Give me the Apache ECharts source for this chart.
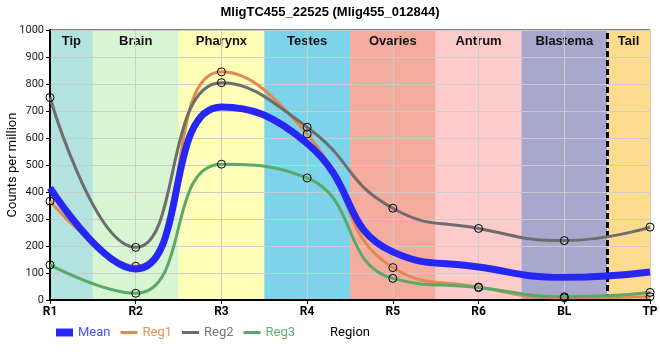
<!DOCTYPE html>
<html>
<head>
<meta charset="utf-8">
<script src="https://cdn.jsdelivr.net/npm/echarts@6/dist/echarts.min.js"></script>
<style>html,body{margin:0;padding:0;background:#fff}#c{width:660px;height:360px}</style>
</head>
<body>
<div id="c"></div>
<script>
var titleText = 'MligTC455_22525 (Mlig455_012844)';
var xLabels = ['R1', 'R2', 'R3', 'R4', 'R5', 'R6', 'BL', 'TP'];
var meanVals = [415, 115, 715, 580, 178, 122, 84, 104];
var reg1Vals = [366, 125, 845, 615, 120, 48, 8, 12];
var reg2Vals = [750, 195, 805, 640, 340, 265, 220, 270];
var reg3Vals = [130, 25, 503, 452, 80, 46, 12, 28];
var yTicks = { min: 0, max: 1000, interval: 100 };
var regionNames = ['Tip', 'Brain', 'Pharynx', 'Testes', 'Ovaries', 'Antrum', 'Blastema', 'Tail'];
var regionStart = [0, 0.5, 1.5, 2.5, 3.5, 4.5, 5.5, 6.5];
var regionEnd = [0.5, 1.5, 2.5, 3.5, 4.5, 5.5, 6.5, 7];
var regionColors = ['#b3e3df', '#d7f5d1', '#fefeb9', '#7dd4ea', '#f4ac9f', '#fecbcb', '#a8a8cf', '#fddb8e'];
var dividerAt = [6.5];
var seriesNames = ['Mean', 'Reg1', 'Reg2', 'Reg3'];
var seriesColors = ['#2626f5', '#e08a4e', '#6d6d6d', '#5aa86a'];
var legendTextColors = ['#4d4dff', '#e8925c', '#777777', '#5fae70'];

function pairs(vals) { return vals.map(function (v, i) { return [i, v]; }); }

var lineIcon = 'path://M0,0H17V3H0Z';
var rectIcon = 'path://M0,0H15V7H0Z';

var areaData = regionNames.map(function (n, i) {
  return [{ name: n, xAxis: regionStart[i], itemStyle: { color: regionColors[i] } }, { xAxis: regionEnd[i] }];
});

var regStyle = function (idx) {
  return {
    name: seriesNames[idx], type: 'line', smooth: 0.5, z: 3,
    data: pairs([meanVals, reg1Vals, reg2Vals, reg3Vals][idx]),
    symbol: 'circle', symbolSize: 8, showSymbol: true,
    lineStyle: { color: seriesColors[idx], width: 3 },
    itemStyle: { color: 'rgba(0,0,0,0)', borderColor: '#000', borderWidth: 1 },
    emphasis: { disabled: true }
  };
};

var option = {
  animation: false,
  backgroundColor: '#fff',
  title: {
    text: titleText, left: 'center', top: 1,
    textStyle: { fontFamily: 'Liberation Sans', fontWeight: 'bold', fontSize: 13, color: '#000' }
  },
  grid: { left: 50, right: 10, top: 30, bottom: 60, outerBoundsMode: 'none', containLabel: false, show: true, borderColor: '#000', borderWidth: 1, backgroundColor: 'transparent' },
  legend: {
    left: 51, top: 321, itemWidth: 17, itemHeight: 8, itemGap: 10,
    textStyle: { fontFamily: 'Roboto', fontSize: 13 },
    data: seriesNames.map(function (n, i) {
      return { name: n, icon: i === 0 ? rectIcon : lineIcon, itemStyle: { color: seriesColors[i], borderWidth: 0 }, textStyle: { color: legendTextColors[i] } };
    })
  },
  xAxis: {
    type: 'value', min: 0, max: xLabels.length - 1, interval: 1, z: 1,
    name: 'Region', nameLocation: 'middle', nameGap: 26, nameMoveOverlap: false,
    nameTextStyle: { fontFamily: 'Roboto', fontSize: 13, color: '#000' },
    axisLine: { show: true, lineStyle: { color: '#000', width: 2 } },
    axisTick: { show: true, length: 4, lineStyle: { color: '#000' } },
    axisLabel: { formatter: function (v) { return xLabels[v]; }, fontFamily: 'Roboto', fontWeight: 'bold', fontSize: 12, color: '#000', margin: 6 },
    splitLine: { show: true, lineStyle: { color: '#cccccc', width: 1 } }
  },
  yAxis: {
    type: 'value', min: yTicks.min, max: yTicks.max, interval: yTicks.interval, z: 1,
    name: 'Counts per million', nameLocation: 'middle', nameGap: 31, nameMoveOverlap: false,
    nameTextStyle: { fontFamily: 'Roboto', fontSize: 13, color: '#000' },
    axisLine: { show: true, lineStyle: { color: '#000', width: 2 } },
    axisTick: { show: true, length: 4, lineStyle: { color: '#000' } },
    axisLabel: { formatter: function (v) { return String(v); }, fontFamily: 'Roboto', fontSize: 11, color: '#1a1a1a', margin: 6 },
    splitLine: { show: true, lineStyle: { color: '#cccccc', width: 1 } }
  },
  series: [
    {
      name: 'bands', type: 'line', data: [], z: 0, silent: true,
      markArea: {
        silent: true, z: 0,
        label: { show: true, position: 'insideTop', distance: 5, fontFamily: 'Liberation Sans', fontWeight: 'bold', fontSize: 13, color: '#111' },
        data: areaData
      },
      markLine: {
        silent: true, symbol: 'none', z: 2,
        label: { show: false },
        lineStyle: { color: '#000', width: 3, type: [6, 3] },
        data: dividerAt.map(function (v) { return { xAxis: v }; })
      }
    },
    {
      name: 'Mean', type: 'line', smooth: 0.5, z: 4,
      data: pairs(meanVals), showSymbol: false, symbol: 'none',
      lineStyle: { color: seriesColors[0], width: 7 },
      itemStyle: { color: seriesColors[0] },
      emphasis: { disabled: true }
    },
    regStyle(1), regStyle(2), regStyle(3)
  ]
};
var chart = echarts.init(document.getElementById('c'), null, { renderer: 'canvas' });
chart.setOption(option);
</script>
</body>
</html>
